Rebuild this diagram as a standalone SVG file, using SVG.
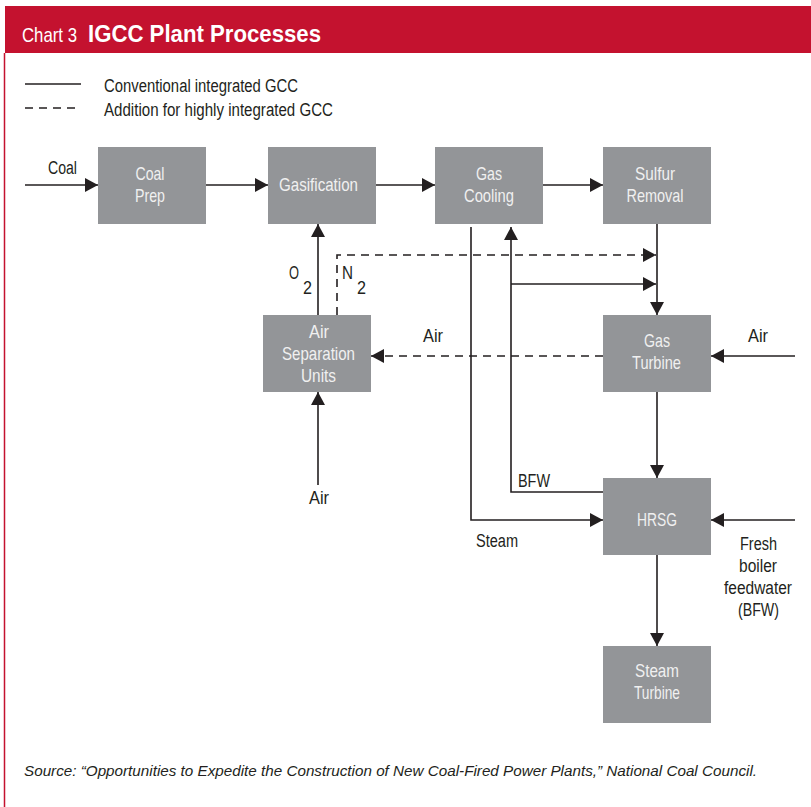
<svg xmlns="http://www.w3.org/2000/svg" width="811" height="807" viewBox="0 0 811 807">
<style>
text{font-family:"Liberation Sans",Arial,sans-serif;}
.box{fill:#939598;}
.bt{fill:#f0f0f0;font-size:18.5px;text-anchor:middle;}
.lb{fill:#231f20;font-size:18px;}
.ln{stroke:#231f20;stroke-width:1.6;fill:none;}
.ds{stroke:#231f20;stroke-width:1.6;fill:none;stroke-dasharray:8 6;}
</style>
<defs>
<marker id="ah" markerUnits="userSpaceOnUse" markerWidth="15" markerHeight="15" refX="13" refY="7" orient="auto">
<path d="M0,0 L13,7 L0,14 z" fill="#231f20"/>
</marker>
</defs>
<rect x="0" y="0" width="811" height="807" fill="#ffffff"/>
<rect x="5" y="6" width="806" height="47" fill="#c4122f"/>
<line x1="4.5" y1="53" x2="4.5" y2="807" stroke="#c4122f" stroke-width="1.5"/>
<text x="22" y="42" fill="#ffffff" font-size="21" textLength="55" lengthAdjust="spacingAndGlyphs">Chart 3</text>
<text x="88" y="42" fill="#ffffff" font-size="23" font-weight="bold" textLength="233" lengthAdjust="spacingAndGlyphs">IGCC Plant Processes</text>
<g id="legend">
<line class="ln" x1="25" y1="84" x2="81" y2="84"/>
<line class="ds" x1="25" y1="108" x2="81" y2="108" stroke-dasharray="7 8"/>
<text class="lb" x="104" y="92" textLength="194" lengthAdjust="spacingAndGlyphs">Conventional integrated GCC</text>
<text class="lb" x="104" y="116" textLength="229" lengthAdjust="spacingAndGlyphs">Addition for highly integrated GCC</text>
</g>
<g id="connectors">
<line class="ln" x1="25" y1="185" x2="98" y2="185" marker-end="url(#ah)"/>
<line class="ln" x1="206" y1="185" x2="268" y2="185" marker-end="url(#ah)"/>
<line class="ln" x1="376" y1="185" x2="435" y2="185" marker-end="url(#ah)"/>
<line class="ln" x1="543" y1="185" x2="603" y2="185" marker-end="url(#ah)"/>
<line class="ln" x1="318" y1="315" x2="318" y2="224" marker-end="url(#ah)"/>
<path class="ds" d="M337,315 V255 H656" marker-end="url(#ah)"/>
<line class="ln" x1="657" y1="224" x2="657" y2="315" marker-end="url(#ah)"/>
<line class="ln" x1="511" y1="284" x2="656" y2="284" marker-end="url(#ah)"/>
<path class="ln" d="M603,492 H511 V227" marker-end="url(#ah)"/>
<path class="ln" d="M471,227 V520 H603" marker-end="url(#ah)"/>
<line class="ds" x1="603" y1="356" x2="371" y2="356" marker-end="url(#ah)"/>
<line class="ln" x1="795" y1="356" x2="711" y2="356" marker-end="url(#ah)"/>
<line class="ln" x1="318" y1="485" x2="318" y2="392" marker-end="url(#ah)"/>
<line class="ln" x1="657" y1="392" x2="657" y2="478" marker-end="url(#ah)"/>
<line class="ln" x1="795" y1="520" x2="711" y2="520" marker-end="url(#ah)"/>
<line class="ln" x1="657" y1="555" x2="657" y2="646" marker-end="url(#ah)"/>
</g>
<g id="labels">
<text class="lb" x="48" y="174" textLength="29" lengthAdjust="spacingAndGlyphs">Coal</text>
<text class="lb" x="289" y="279" textLength="10" lengthAdjust="spacingAndGlyphs">O</text>
<text class="lb" x="303" y="294" textLength="9" lengthAdjust="spacingAndGlyphs">2</text>
<text class="lb" x="342" y="279" textLength="11" lengthAdjust="spacingAndGlyphs">N</text>
<text class="lb" x="357" y="294" textLength="9" lengthAdjust="spacingAndGlyphs">2</text>
<text class="lb" x="423" y="342" textLength="20" lengthAdjust="spacingAndGlyphs">Air</text>
<text class="lb" x="748" y="342" textLength="20" lengthAdjust="spacingAndGlyphs">Air</text>
<text class="lb" x="309" y="504" textLength="20" lengthAdjust="spacingAndGlyphs">Air</text>
<text class="lb" x="518" y="487" textLength="32" lengthAdjust="spacingAndGlyphs">BFW</text>
<text class="lb" x="476" y="547" textLength="42" lengthAdjust="spacingAndGlyphs">Steam</text>
<text class="lb" x="740" y="550" textLength="37" lengthAdjust="spacingAndGlyphs">Fresh</text>
<text class="lb" x="739" y="572" textLength="38" lengthAdjust="spacingAndGlyphs">boiler</text>
<text class="lb" x="724" y="594" textLength="68" lengthAdjust="spacingAndGlyphs">feedwater</text>
<text class="lb" x="738" y="616" textLength="41" lengthAdjust="spacingAndGlyphs">(BFW)</text>
</g>
<g id="coal-prep"><rect class="box" x="98" y="147" width="108" height="77"/><text class="bt" x="150" y="180" textLength="29" lengthAdjust="spacingAndGlyphs">Coal</text><text class="bt" x="150" y="202" textLength="30" lengthAdjust="spacingAndGlyphs">Prep</text></g>
<g id="gasification"><rect class="box" x="268" y="147" width="108" height="77"/><text class="bt" x="318.5" y="191" textLength="79" lengthAdjust="spacingAndGlyphs">Gasification</text></g>
<g id="gas-cooling"><rect class="box" x="435" y="147" width="108" height="77"/><text class="bt" x="489" y="180" textLength="26" lengthAdjust="spacingAndGlyphs">Gas</text><text class="bt" x="489" y="202" textLength="50" lengthAdjust="spacingAndGlyphs">Cooling</text></g>
<g id="sulfur-removal"><rect class="box" x="603" y="147" width="108" height="77"/><text class="bt" x="655" y="180" textLength="40" lengthAdjust="spacingAndGlyphs">Sulfur</text><text class="bt" x="655" y="202" textLength="57" lengthAdjust="spacingAndGlyphs">Removal</text></g>
<g id="air-separation"><rect class="box" x="263" y="315" width="108" height="77"/><text class="bt" x="319" y="338" textLength="20" lengthAdjust="spacingAndGlyphs">Air</text><text class="bt" x="318.5" y="360" textLength="73" lengthAdjust="spacingAndGlyphs">Separation</text><text class="bt" x="318.5" y="382" textLength="35" lengthAdjust="spacingAndGlyphs">Units</text></g>
<g id="gas-turbine"><rect class="box" x="603" y="315" width="108" height="77"/><text class="bt" x="657" y="347" textLength="26" lengthAdjust="spacingAndGlyphs">Gas</text><text class="bt" x="656.5" y="369" textLength="49" lengthAdjust="spacingAndGlyphs">Turbine</text></g>
<g id="hrsg"><rect class="box" x="603" y="478" width="108" height="77"/><text class="bt" x="657" y="526" textLength="40" lengthAdjust="spacingAndGlyphs">HRSG</text></g>
<g id="steam-turbine"><rect class="box" x="603" y="646" width="108" height="77"/><text class="bt" x="657" y="677" textLength="44" lengthAdjust="spacingAndGlyphs">Steam</text><text class="bt" x="657" y="699" textLength="46" lengthAdjust="spacingAndGlyphs">Turbine</text></g>
<text x="24" y="776" fill="#231f20" font-size="15" font-style="italic" textLength="733" lengthAdjust="spacingAndGlyphs">Source: “Opportunities to Expedite the Construction of New Coal-Fired Power Plants,” National Coal Council.</text>
</svg>
